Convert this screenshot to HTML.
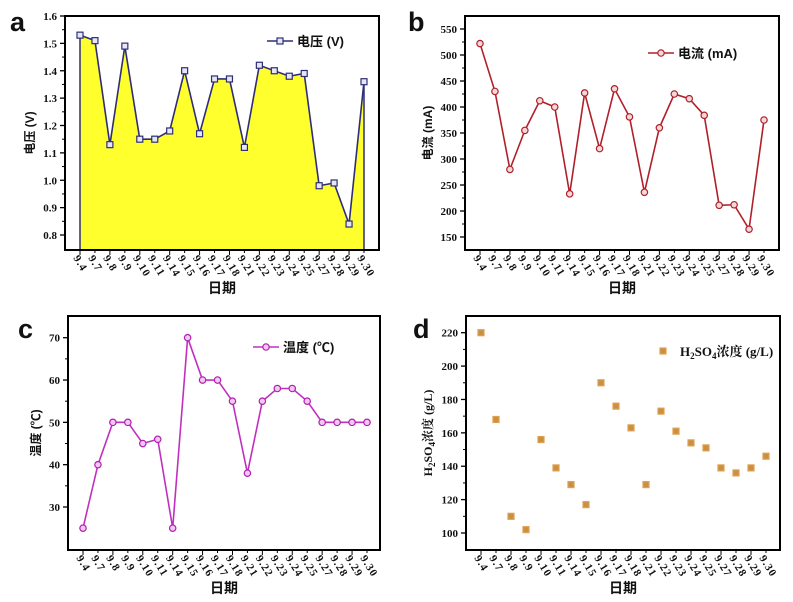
<!DOCTYPE html>
<html><head><meta charset="utf-8"><style>
html,body{margin:0;padding:0;background:#fff;}
svg{display:block;}
text{font-family:"Liberation Serif","Noto Serif CJK SC",serif;font-weight:bold;fill:#111;}
.cn{font-family:"Liberation Sans","Noto Sans CJK SC",sans-serif;}
</style></head><body>
<svg id="fig" width="793" height="602" viewBox="0 0 793 602" xmlns="http://www.w3.org/2000/svg"></svg>
<script>
const categories=["9.4","9.7","9.8","9.9","9.10","9.11","9.14","9.15","9.16","9.17","9.18","9.21","9.22","9.23","9.24","9.25","9.27","9.28","9.29","9.30"];
const voltage=[1.53,1.51,1.13,1.49,1.15,1.15,1.18,1.40,1.17,1.37,1.37,1.12,1.42,1.40,1.38,1.39,0.98,0.99,0.84,1.36];
const current=[522,430,280,355,412,400,233,427,320,435,381,236,360,425,416,384,211,212,165,375];
const temperature=[25,40,50,50,45,46,25,70,60,60,55,38,55,58,58,55,50,50,50,50];
const acid=[220,168,110,102,156,139,129,117,190,176,163,129,173,161,154,151,139,136,139,146];
const voltTicks=[0.8,0.9,1.0,1.1,1.2,1.3,1.4,1.5,1.6];
const currTicks=[150,200,250,300,350,400,450,500,550];
const tempTicks=[30,40,50,60,70];
const acidTicks=[100,120,140,160,180,200,220];

const NS="http://www.w3.org/2000/svg";
const svg=document.getElementById('fig');
function mk(tag,attrs,parent){const e=document.createElementNS(NS,tag);for(const k in attrs)e.setAttribute(k,attrs[k]);(parent||svg).appendChild(e);return e;}

function panel(o){
  const g=mk('g',{});
  
  
  const X=i=>o.x0+(o.x1-o.x0)*i/(categories.length-1);
  const Y=v=>o.yA+(v-o.vA)*(o.yB-o.yA)/(o.vB-o.vA);
  const lt=mk('text',{x:o.lx,y:o.ly,'font-size':27,'font-weight':'normal',class:'cn'},g);lt.textContent=o.letter;
  
  
  if(o.fill){
    let d='M'+X(0)+','+o.by;
    o.data.forEach((v,i)=>{d+=' L'+X(i)+','+Y(v);});
    d+=' L'+X(o.data.length-1)+','+o.by+' Z';
    const a=mk('path',{d:d,fill:o.fill,stroke:'none'},g);
    
    
    mk('line',{x1:X(0),y1:Y(o.data[0]),x2:X(0),y2:o.by,stroke:o.color,'stroke-width':1.5},g);
    mk('line',{x1:X(o.data.length-1),y1:Y(o.data[o.data.length-1]),x2:X(o.data.length-1),y2:o.by,stroke:o.color,'stroke-width':1.5},g);
  }
  const fr=mk('rect',{x:o.bx,y:o.ty,width:o.rx-o.bx,height:o.by-o.ty,fill:'none',stroke:'#000','stroke-width':2},g);
  
  
  o.ticks.forEach((t,k)=>{
    const y=Y(t);
    mk('line',{x1:o.bx,y1:y,x2:o.bx-5,y2:y,stroke:'#000','stroke-width':1.3},g);
    if(k<o.ticks.length-1){const ym=Y(t+(o.ticks[1]-o.ticks[0])/2);mk('line',{x1:o.bx,y1:ym,x2:o.bx-3,y2:ym,stroke:'#000','stroke-width':1});}
    const tx=mk('text',{x:o.bx-8,y:y+4,'font-size':11,'text-anchor':'end'},g);tx.textContent=o.fmt(t);
    
    
  });
  categories.forEach((c,i)=>{
    const x=X(i);
    mk('line',{x1:x,y1:o.by,x2:x,y2:o.by+(i%2?3:5),stroke:'#000','stroke-width':1},g);
    const tx=mk('text',{x:0,y:0,'font-size':11,'letter-spacing':1,transform:'translate('+(x-7)+','+(o.by+8)+') rotate(58)'},g);tx.textContent=c;
    
    
  });
  const xt=mk('text',{x:(o.bx+o.rx)/2,y:o.by+43,'font-size':14,'text-anchor':'middle',class:'cn'},g);xt.textContent='日期';
  
  
  const yt=mk('text',{x:0,y:0,'font-size':12,'text-anchor':'middle',class:o.ycls||'cn',transform:'translate('+o.ytx+','+(o.ty+o.by)/2+') rotate(-90)'},g);yt.innerHTML=o.ytitle;
  
  
  if(o.line){
    const pts=o.data.map((v,i)=>X(i)+','+Y(v)).join(' ');
    const pl=mk('polyline',{points:pts,fill:'none',stroke:o.color,'stroke-width':1.6},g);
    
    
  }
  o.data.forEach((v,i)=>{
    const m=o.marker(g,X(i),Y(v));
    
    
  });
  const lg=mk('g',{},g);
  
  
  if(o.line)mk('line',{x1:o.legx,y1:o.legy,x2:o.legx+26,y2:o.legy,stroke:o.color,'stroke-width':1.6},lg);
  o.marker(lg,o.legx+13,o.legy);
  const lt2=mk('text',{x:o.legx+30,y:o.legy+5,'font-size':13,class:o.lcls||'cn'},lg);lt2.innerHTML=o.legend;
}
const sq=(col,fill)=> (g,x,y)=>mk('rect',{x:x-3,y:y-3,width:6,height:6,fill:fill,stroke:col,'stroke-width':1.2},g);
const circ=(col,fill)=> (g,x,y)=>mk('circle',{cx:x,cy:y,r:3.2,fill:fill,stroke:col,'stroke-width':1.2},g);

panel({name:'voltage-chart',letter:'a',lx:10,ly:31,bx:65,rx:379,ty:16,by:250,x0:80,x1:364,vA:1.6,yA:16,vB:0.8,yB:235,
  data:voltage,ticks:voltTicks,fmt:t=>t.toFixed(1),color:'#2e2e78',fill:'#ffff2e',line:true,marker:sq('#2e2e78','#e6e6f5'),
  ytitle:'电压 (V)',ytx:34,legx:267,legy:41,legend:'电压 (V)'});
panel({name:'current-chart',letter:'b',lx:408,ly:31,bx:465,rx:779,ty:16,by:250,x0:480,x1:764,vA:550,yA:29,vB:150,yB:237,
  data:current,ticks:currTicks,fmt:t=>t,color:'#b0202a',line:true,marker:circ('#b0202a','#f3d8d8'),
  ytitle:'电流 (mA)',ytx:432,legx:648,legy:53,legend:'电流 (mA)'});
panel({name:'temperature-chart',letter:'c',lx:18,ly:338,bx:68,rx:380,ty:316,by:550,x0:83,x1:367,vA:70,yA:337.7,vB:30,yB:507,
  data:temperature,ticks:tempTicks,fmt:t=>t,color:'#c030c0',line:true,marker:circ('#b020b0','#f0c8f0'),
  ytitle:'温度 (℃)',ytx:40,legx:253,legy:347,legend:'温度 (℃)'});
panel({name:'acid-concentration-chart',letter:'d',lx:413,ly:338,bx:466,rx:780,ty:316,by:550,x0:481,x1:766,vA:220,yA:332.7,vB:100,yB:533,
  data:acid,ticks:acidTicks,fmt:t=>t,color:'#d08a30',line:false,marker:sq('#e0a050','#c89040'),
  ytitle:'H<tspan font-size="9" dy="3">2</tspan><tspan dy="-3">SO</tspan><tspan font-size="9" dy="3">4</tspan><tspan dy="-3">浓度 (g/L)</tspan>',ycls:' ',ytx:432,
  legx:650,legy:351,legend:'H<tspan font-size="9" dy="3">2</tspan><tspan dy="-3">SO</tspan><tspan font-size="9" dy="3">4</tspan><tspan dy="-3">浓度 (g/L)</tspan>',lcls:' '});
</script>
</body></html>
